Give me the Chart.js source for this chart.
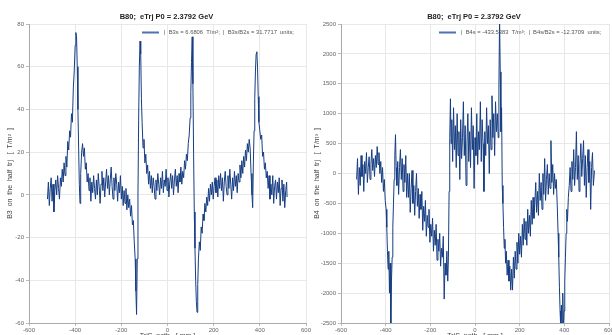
<!DOCTYPE html>
<html>
<head>
<meta charset="utf-8">
<script src="https://cdn.jsdelivr.net/npm/chart.js@4.4.1/dist/chart.umd.min.js"></script>
<style>
  html, body { margin: 0; padding: 0; background: #fff; overflow: hidden; width: 612px; height: 335px; }
  canvas { position: absolute; top: 0; }
  #b3chart { left: 0; }
  #b4chart { left: 306px; }
</style>
</head>
<body>
<canvas id="b3chart" width="316" height="345"></canvas>
<canvas id="b4chart" width="316" height="345"></canvas>
<script>
// path position along half trajectory [mm] and field values
const b3Pos = [-520,-516,-512,-508,-504,-500,-496,-492,-488,-484,-480,-476,-472,-468,-464,-460,-456,-452,-448,-444,-440,-436,-432,-428,-424,-420,-416,-412,-408,-404,-400,-397,-394,-391,-388,-385,-382,-379,-376,-372,-368,-364,-360,-356,-352,-348,-344,-340,-336,-332,-328,-324,-320,-316,-312,-308,-304,-300,-296,-292,-288,-284,-280,-276,-272,-268,-264,-260,-256,-252,-248,-244,-240,-236,-232,-228,-224,-220,-216,-212,-208,-204,-200,-196,-192,-188,-184,-180,-176,-172,-168,-164,-160,-156,-152,-148,-144,-140,-137,-134,-131,-128,-125,-122,-119,-116,-113,-110,-106,-102,-98,-94,-90,-86,-82,-78,-74,-70,-66,-62,-58,-54,-50,-46,-42,-38,-34,-30,-26,-22,-18,-14,-10,-6,-2,2,6,10,14,18,22,26,30,34,38,42,46,50,54,58,62,66,70,74,78,82,86,90,94,98,101,104,107,110,113,116,119,122,125,128,131,134,138,142,146,150,154,158,162,166,170,174,178,182,186,190,194,198,202,206,210,214,218,222,226,230,234,238,242,246,250,254,258,262,266,270,274,278,282,286,290,294,298,302,306,310,314,318,322,326,330,334,338,342,346,350,354,358,362,366,369,372,375,378,381,384,387,390,393,396,400,404,408,412,416,420,424,428,432,436,440,444,448,452,456,460,464,468,472,476,480,484,488,492,496,500,504,508,512,516,518];
const b3Val = [-2,6,-5,3,8,-3,5,-8,2,7,0,9,3,-2,8,4,12,6,15,9,18,13,25,21,30,27,38,34,50,58,70,76,74,60,40,22,5,-4,10,20,24,18,22,12,15,6,10,2,8,-3,6,1,9,3,-2,7,0,10,4,-4,5,11,2,8,-1,6,12,3,9,0,7,13,4,-2,8,2,10,5,-3,6,1,9,-2,4,-5,2,-4,3,-7,0,-6,-2,-10,-5,-14,-12,-22,-30,-45,-56,-30,0,35,60,72,66,45,34,22,26,15,19,10,14,5,11,3,9,1,8,4,-2,7,2,10,5,0,8,3,11,1,7,4,12,2,8,-1,6,10,3,9,0,7,12,4,9,1,10,6,13,5,11,8,16,12,19,16,24,28,36,48,62,74,52,20,-8,-25,-40,-50,-55,-42,-30,-22,-26,-15,-18,-9,-12,-4,-8,-1,-5,3,-3,5,0,6,-2,4,8,1,7,-1,9,3,10,2,8,-3,6,11,4,0,9,3,12,5,-2,8,2,11,4,9,1,10,6,14,8,16,10,18,13,21,16,24,20,26,22,10,0,-6,15,30,45,58,66,67,60,46,34,30,26,28,18,20,12,15,8,11,3,9,-2,5,0,9,-4,4,7,-2,6,1,8,-5,3,7,-3,5,-6,2,6,-1];
const b4Pos = [-530,-526,-522,-518,-514,-510,-506,-502,-498,-494,-490,-486,-482,-478,-474,-470,-466,-462,-458,-454,-450,-446,-442,-438,-434,-430,-426,-422,-418,-414,-410,-406,-402,-398,-395,-392,-389,-386,-383,-380,-377,-374,-371,-368,-365,-362,-359,-356,-353,-350,-346,-342,-338,-334,-330,-326,-322,-318,-314,-310,-306,-302,-298,-294,-290,-286,-282,-278,-274,-270,-266,-262,-258,-254,-250,-246,-242,-238,-234,-230,-226,-222,-218,-214,-210,-206,-202,-198,-194,-190,-186,-182,-178,-174,-170,-166,-162,-158,-154,-150,-146,-142,-138,-134,-130,-126,-122,-119,-116,-113,-110,-107,-104,-100,-96,-92,-88,-84,-80,-76,-72,-68,-64,-60,-56,-52,-48,-44,-40,-36,-32,-28,-24,-20,-16,-12,-8,-4,0,4,8,12,16,20,24,28,32,36,40,44,48,52,56,60,64,68,72,76,80,84,88,92,96,100,104,107,110,113,116,119,122,125,128,131,134,137,140,144,148,152,156,160,164,168,172,176,180,184,188,192,196,200,204,208,212,216,220,224,228,232,236,240,244,248,252,256,260,264,268,272,276,280,284,288,292,296,300,304,308,312,316,320,324,328,332,336,340,344,348,352,356,360,364,368,372,375,378,381,384,387,390,393,396,399,402,405,408,411,414,418,422,426,430,434,438,442,446,450,454,458,462,466,470,474,478,482,486,490,494,498,502,506,510,514,518,522,526,530,535];
const b4Val = [-100,250,-350,100,-200,300,-50,150,-300,200,0,350,-150,100,280,-100,150,400,50,250,-50,300,100,450,150,350,0,200,-150,100,-300,-100,-450,-600,-900,-1300,-1600,-1300,-2000,-1500,-2600,-1800,-1400,-900,-500,-100,300,650,100,-200,200,-350,100,400,-100,250,-300,150,-150,300,-400,0,-400,0,-650,-250,50,-500,-200,-700,-300,0,-550,-250,-750,-350,-600,-300,-950,-550,-800,-450,-1050,-700,-900,-600,-1150,-850,-1050,-750,-1300,-950,-1200,-850,-1450,-1100,-1300,-1000,-1550,-1250,-1400,-1050,-2100,-1500,-1700,-1300,-1800,-1400,-300,600,1250,500,900,200,1100,400,800,100,1000,300,700,-100,900,250,600,1200,300,800,-200,500,1000,200,700,100,1100,400,800,-250,600,300,1000,150,700,400,1200,200,900,500,-300,700,300,1100,500,800,0,900,400,1300,600,1000,300,1200,700,1000,600,1400,2600,1700,700,1100,-200,-500,-900,-1250,-1100,-1500,-1300,-1700,-1450,-1800,-1550,-1950,-1600,-1950,-1400,-1750,-1300,-1600,-1150,-1500,-1000,-1350,-1050,-1400,-850,-1200,-750,-1100,-800,-1200,-600,-1000,-700,-1050,-450,-850,-400,-750,-500,-150,-650,-300,-700,0,-450,-150,-600,0,-350,250,-450,-100,150,-350,0,-250,550,-150,150,-350,0,-250,-100,-500,-1000,-1400,-1900,-2300,-2600,-2200,-2600,-2000,-2600,-2300,-1800,-1400,-1000,-600,-800,-400,-200,100,-300,200,-100,400,-200,100,700,-100,300,-300,150,500,-50,250,550,-200,300,-400,100,400,-150,200,-600,100,350,-200,50];

const xTicks = [-600, -400, -200, 0, 200, 400, 600];
const b3Ticks = [-60, -40, -20, 0, 20, 40, 60, 80];
const b4Ticks = [-2500, -2000, -1500, -1000, -500, 0, 500, 1000, 1500, 2000, 2500];

const FONT = '"Liberation Sans", Arial, sans-serif';
const LINE = '#163d82';

function textPlugin(t) {
  return {
    id: 'texts',
    afterDraw(chart) {
      const ctx = chart.ctx, a = chart.chartArea;
      const cx = (a.left + a.right) / 2;
      ctx.save();
      ctx.fillStyle = '#222';
      ctx.font = 'bold 7.5px ' + FONT;
      ctx.textAlign = 'center';
      ctx.textBaseline = 'middle';
      ctx.fillText(t.title, cx - 1, 17);
      // legend inside the plot
      ctx.strokeStyle = '#4b73ad';
      ctx.lineWidth = 2;
      ctx.beginPath();
      ctx.moveTo(t.legX, 32.5);
      ctx.lineTo(t.legX + 17, 32.5);
      ctx.stroke();
      ctx.fillStyle = '#555';
      ctx.font = '5.8px ' + FONT;
      ctx.textAlign = 'left';
      ctx.fillText(t.legend, t.legX + 22, 32.5);
      // axis titles
      ctx.fillStyle = '#444';
      ctx.font = '7px ' + FONT;
      ctx.textAlign = 'center';
      ctx.fillText(t.xTitle, cx, 336);
      ctx.translate(t.yTitleX, (a.top + a.bottom) / 2);
      ctx.rotate(-Math.PI / 2);
      ctx.fillText(t.yTitle, 0, 0);
      ctx.restore();
    }
  };
}

function makeChart(id, pos, vals, yTicks, yMin, yMax, axisW, padRight, t) {
  const pts = pos.map((x, i) => ({ x: x, y: vals[i] }));
  const gridOpts = { color: '#e8e8e8', tickLength: 3, tickColor: '#bbb' };
  const tickFont = { family: FONT, size: 6 };
  return new Chart(document.getElementById(id), {
    type: 'line',
    data: {
      datasets: [{
        data: pts,
        borderColor: LINE,
        borderWidth: 1,
        pointRadius: 0,
        tension: 0
      }]
    },
    options: {
      responsive: false,
      animation: false,
      parsing: false,
      layout: { padding: { left: 0, top: 24, right: padRight, bottom: 0 } },
      plugins: { legend: { display: false }, tooltip: { enabled: false } },
      scales: {
        x: {
          type: 'linear',
          min: -600, max: 600,
          afterBuildTicks: s => { s.ticks = xTicks.map(v => ({ value: v })); },
          afterFit: s => { s.height = 22; },
          grid: gridOpts,
          border: { color: '#aaa' },
          ticks: { color: '#666', font: tickFont, padding: 1, maxRotation: 0, callback: v => String(v) }
        },
        y: {
          min: yMin, max: yMax,
          afterBuildTicks: s => { s.ticks = yTicks.map(v => ({ value: v })); },
          afterFit: s => { s.width = axisW; },
          grid: gridOpts,
          border: { color: '#aaa' },
          ticks: { color: '#666', font: tickFont, padding: 2, callback: v => String(v) }
        }
      }
    },
    plugins: [textPlugin(t)]
  });
}

makeChart('b3chart', b3Pos, b3Val, b3Ticks, -60, 80, 29, 10, {
  title: 'B80;  eTrj P0 = 2.3792 GeV',
  legend: '|  B3s = 6.6806  T/m\u00B2;  |  B3s/B2s = 31.7717  units;',
  legX: 142,
  xTitle: 'TrjS  path   [ mm ]',
  yTitle: 'B3  on  the  half  trj   [  T/m\u00B2  ]',
  yTitleX: 10
});

makeChart('b4chart', b4Pos, b4Val, b4Ticks, -2500, 2500, 35, 13, {
  title: 'B80;  eTrj P0 = 2.3792 GeV',
  legend: '|  B4s = -433.5383  T/m\u00B3;  |  B4s/B2s = -12.3709  units;',
  legX: 133,
  xTitle: 'TrjS  path   [ mm ]',
  yTitle: 'B4  on  the  half  trj   [  T/m\u00B3  ]',
  yTitleX: 11
});
</script>
</body>
</html>
